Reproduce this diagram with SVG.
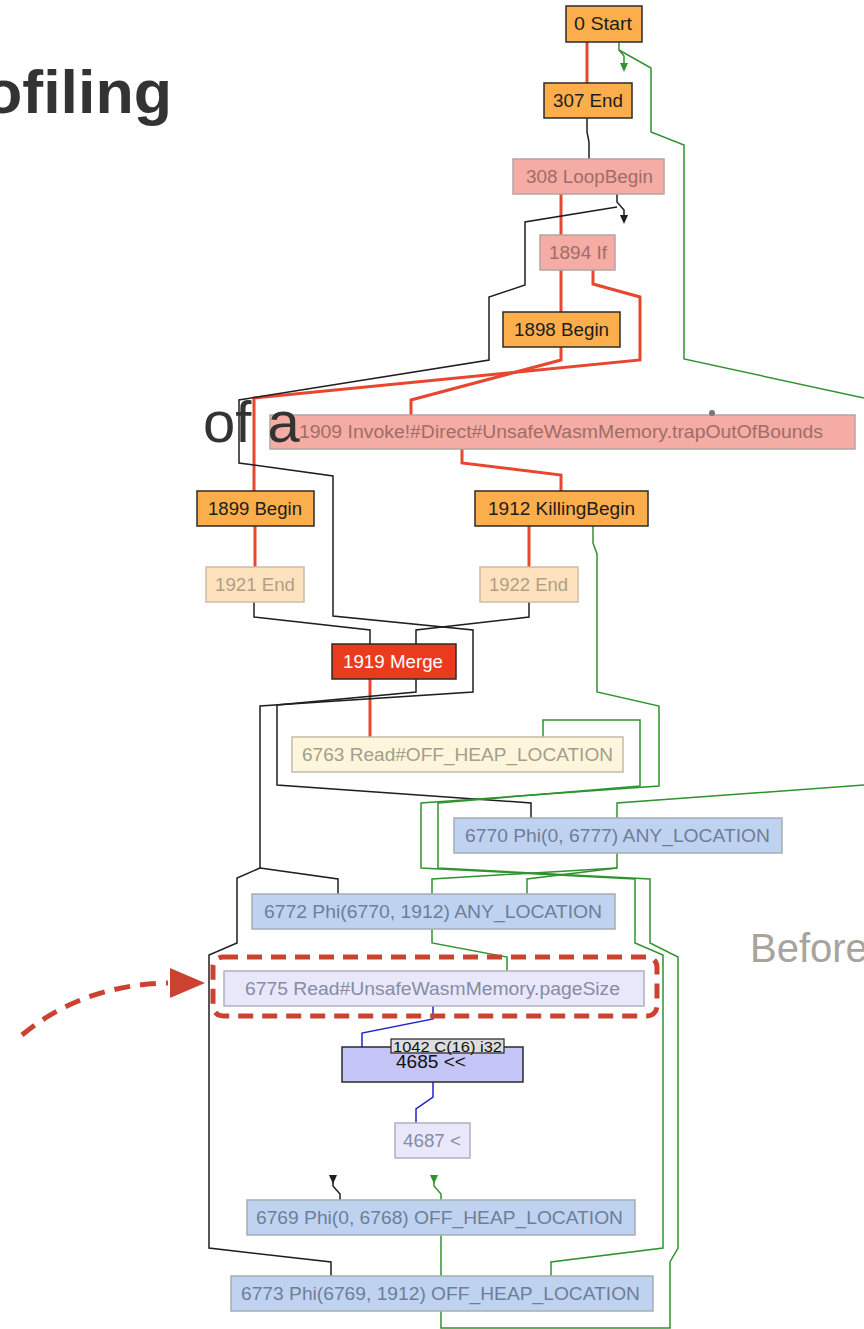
<svg xmlns="http://www.w3.org/2000/svg" width="864" height="1329" viewBox="0 0 864 1329">
<style>
.bg{fill:#ffffff}
.title{font-family:"Liberation Sans",Arial,sans-serif;fill:#333333}
.n rect{stroke-width:1.5}
.n text{font-family:"Liberation Sans",Arial,sans-serif;font-size:17.5px;text-anchor:middle}
.orange rect{fill:#fbae4b;stroke:#2b2b2b}
.orange text{fill:#1d1d1d}
.pink rect{fill:#f5aca4;stroke:#b4a4a2}
.pink text{fill:#a06d68}
.lorange rect{fill:#fde2bd;stroke:#cbbca8}
.lorange text{fill:#b39d86}
.merge rect{fill:#ea3b1f;stroke:#2b2b2b}
.merge text{fill:#ffffff}
.cream rect{fill:#fdf6dc;stroke:#c2bca9}
.cream text{fill:#a59e88}
.blue rect{fill:#bfd3f0;stroke:#a6acb5}
.blue text{fill:#6e7e9a}
.lav rect{fill:#e8e8fa;stroke:#b0b0c0}
.lav text{fill:#868ba6}
.purple rect{fill:#c5c5f7;stroke:#2b2b2b}
.purple text{fill:#111111}
.lbl rect{fill:#dddddd;stroke:#222222;stroke-width:1.2}
.lbl text{font-size:14.5px;fill:#111111}
.r{stroke:#e8472f;stroke-width:3;fill:none}
.k{stroke:#1f1f1f;stroke-width:1.5;fill:none}
.g{stroke:#2f932f;stroke-width:1.5;fill:none}
.b{stroke:#2323c8;stroke-width:1.5;fill:none}
.hl{stroke:#cb4230;stroke-width:5;fill:none}
</style>
<rect class="bg" x="0" y="0" width="864" height="1329"/>
<g id="connectors">
<path class="r" d="M587,42 V83"/>
<path class="r" d="M561,194 V235"/>
<path class="r" d="M561,270 V312"/>
<path class="r" d="M593,270 V284 L640,297 V360 L254,398 V491"/>
<path class="r" d="M561,347 V360 L411,400 V415"/>
<path class="r" d="M462,449 V463 L561,475 V491"/>
<path class="r" d="M255,526 V567"/>
<path class="r" d="M529,526 V567"/>
<path class="r" d="M370,679 V737"/>
<path class="k" d="M587,118 V132 L589,142 V159"/>
<path class="k" d="M617,194 V202 L624,210 V216"/>
<polygon points="620,215 628,215 624,224" fill="#1f1f1f"/>
<path class="k" d="M617,207 L525,222 V285 L489,297 V360 L239,400 V463 L333,476 V616 L473,630 V692 L260,706 V868 L237,878 V943 L209,955 V1248 L331,1262 V1276"/>
<path class="k" d="M260,868 L338,879 V894"/>
<path class="k" d="M254,602 V617 L370,630 V644"/>
<path class="k" d="M529,602 V617 L416,630 V644"/>
<path class="k" d="M416,679 V692 L277,705 V785 L531,803 V818"/>
<polygon points="329,1175 337,1175 333,1184" fill="#1f1f1f"/>
<path class="k" d="M333,1182 V1186 L340,1194 V1200"/>
<path class="g" d="M619,42 V50 L624,56 V64"/>
<polygon points="620,63 628,63 624,72" fill="#2f932f"/>
<path class="g" d="M619,50 L651,68 V132 L684,145 V359 L864,398"/>
<path class="g" d="M864,785 L617,803 V818"/>
<path class="g" d="M593,526 V543 L597,554 V692 L659,706 V786 L421,803 V868 L635,879 V943 L663,955 V1248 L551,1262 V1276"/>
<path class="g" d="M543,737 V720 H640 V786 L438,803 V868 L650,879 V943 L678,957 V1248 L670,1262 V1328 H441 V1311"/>
<path class="g" d="M617,853 V868 L432,879 V894"/>
<path class="g" d="M617,868 L527,879 V894"/>
<path class="g" d="M432,929 V943 L507,957 V971"/>
<path class="g" d="M441,1235 V1276"/>
<polygon points="430,1175 438,1175 434,1184" fill="#2f932f"/>
<path class="g" d="M434,1182 V1186 L441,1194 V1200"/>
<path class="b" d="M433,1006 V1019 L362,1033 V1047"/>
<path class="b" d="M433,1082 V1097 L416,1109 V1123"/>
</g>
<g id="n0" class="n orange"><rect x="566" y="6" width="76" height="36"/><text x="603" y="30" textLength="58" lengthAdjust="spacingAndGlyphs">0 Start</text></g>
<g id="n307" class="n orange"><rect x="544" y="83" width="88" height="35"/><text x="588" y="107" textLength="70" lengthAdjust="spacingAndGlyphs">307 End</text></g>
<g id="n308" class="n pink"><rect x="513" y="159" width="151" height="35"/><text x="589.5" y="183" textLength="127" lengthAdjust="spacingAndGlyphs">308 LoopBegin</text></g>
<g id="n1894" class="n pink"><rect x="540" y="235" width="75" height="35"/><text x="578" y="259" textLength="58" lengthAdjust="spacingAndGlyphs">1894 If</text></g>
<g id="n1898" class="n orange"><rect x="503" y="312" width="117" height="35"/><text x="561.5" y="336" textLength="95" lengthAdjust="spacingAndGlyphs">1898 Begin</text></g>
<g id="n1909" class="n pink"><rect x="270" y="415" width="585" height="34"/><text x="561" y="438" textLength="524" lengthAdjust="spacingAndGlyphs">1909 Invoke!#Direct#UnsafeWasmMemory.trapOutOfBounds</text><circle cx="712" cy="413" r="3" fill="#777777"/></g>
<g id="n1899" class="n orange"><rect x="197" y="491" width="117" height="35"/><text x="255" y="515" textLength="94" lengthAdjust="spacingAndGlyphs">1899 Begin</text></g>
<g id="n1912" class="n orange"><rect x="475" y="491" width="173" height="35"/><text x="561.5" y="515" textLength="147" lengthAdjust="spacingAndGlyphs">1912 KillingBegin</text></g>
<g id="n1921" class="n lorange"><rect x="206" y="567" width="98" height="35"/><text x="255" y="591" textLength="80" lengthAdjust="spacingAndGlyphs">1921 End</text></g>
<g id="n1922" class="n lorange"><rect x="480" y="567" width="98" height="35"/><text x="528.5" y="591" textLength="79" lengthAdjust="spacingAndGlyphs">1922 End</text></g>
<g id="n1919" class="n merge"><rect x="332" y="644" width="124" height="35"/><text x="393" y="668" textLength="100" lengthAdjust="spacingAndGlyphs">1919 Merge</text></g>
<g id="n6763" class="n cream"><rect x="292" y="737" width="331" height="35"/><text x="457.5" y="761" textLength="311" lengthAdjust="spacingAndGlyphs">6763 Read#OFF_HEAP_LOCATION</text></g>
<g id="n6770" class="n blue"><rect x="454" y="818" width="328" height="35"/><text x="617.5" y="842" textLength="305" lengthAdjust="spacingAndGlyphs">6770 Phi(0, 6777) ANY_LOCATION</text></g>
<g id="n6772" class="n blue"><rect x="252" y="894" width="363" height="35"/><text x="433" y="918" textLength="338" lengthAdjust="spacingAndGlyphs">6772 Phi(6770, 1912) ANY_LOCATION</text></g>
<g id="n6775" class="n lav"><rect x="224" y="971" width="420" height="35"/><text x="432.5" y="995" textLength="375" lengthAdjust="spacingAndGlyphs">6775 Read#UnsafeWasmMemory.pageSize</text></g>
<g id="n4685" class="n purple"><rect x="342" y="1047" width="181" height="35"/><text x="431" y="1068" textLength="70" lengthAdjust="spacingAndGlyphs">4685 &lt;&lt;</text></g>
<g id="n1042" class="n lbl"><rect x="391" y="1039" width="113" height="14"/><text x="447.5" y="1052" textLength="109" lengthAdjust="spacingAndGlyphs">1042 C(16) i32</text></g>
<g id="n4687" class="n lav"><rect x="395" y="1123" width="75" height="35"/><text x="432" y="1147" textLength="58" lengthAdjust="spacingAndGlyphs">4687 &lt;</text></g>
<g id="n6769" class="n blue"><rect x="247" y="1200" width="388" height="35"/><text x="439.5" y="1224" textLength="367" lengthAdjust="spacingAndGlyphs">6769 Phi(0, 6768) OFF_HEAP_LOCATION</text></g>
<g id="n6773" class="n blue"><rect x="231" y="1276" width="422" height="35"/><text x="440.5" y="1300" textLength="399" lengthAdjust="spacingAndGlyphs">6773 Phi(6769, 1912) OFF_HEAP_LOCATION</text></g>
<g id="highlight">
<rect class="hl" x="213" y="957" width="444" height="59" rx="10" stroke-dasharray="15 9"/>
<path class="hl" d="M22,1035 C60,1003 110,984 168,983" stroke-dasharray="16 10"/>
<polygon points="170,968 170,998 205,983" fill="#cb4230"/>
</g>
<g id="slide-text">
<text class="title" x="-16" y="113" font-size="62" font-weight="bold" textLength="188" lengthAdjust="spacingAndGlyphs">ofiling</text>
<text class="title" x="203" y="442" font-size="58">of a</text>
<text x="750" y="962" font-family="'Liberation Sans',Arial,sans-serif" font-size="40" fill="#a8a39c">Before</text>
</g>
</svg>
